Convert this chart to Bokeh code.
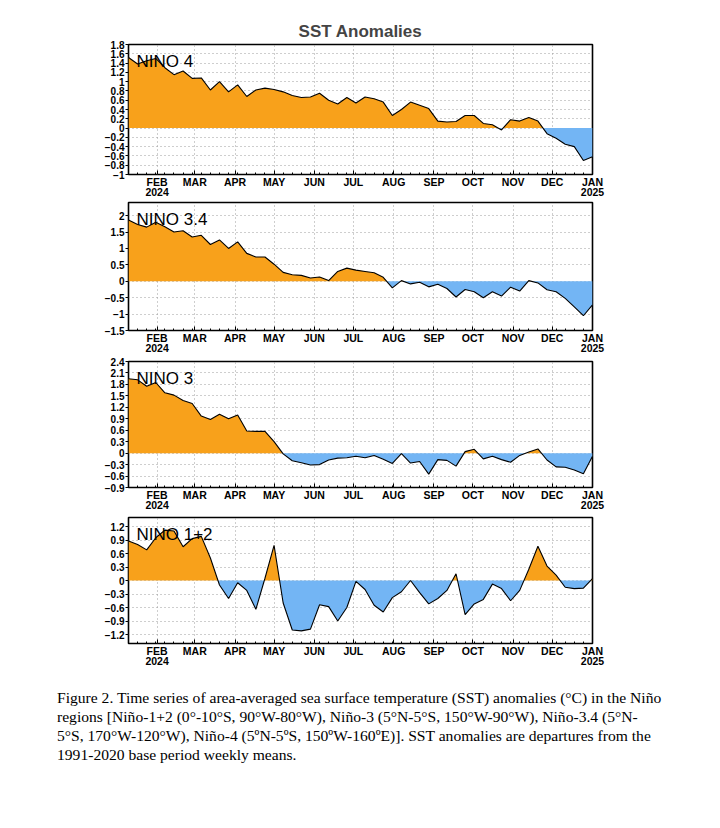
import numpy as np
import pandas as pd
from bokeh.plotting import figure
from bokeh.models import Range1d, FixedTicker, Label, Div
from bokeh.layouts import column
from bokeh.embed import file_html
from bokeh.resources import INLINE

# ---------------- data ----------------
first_week = "2024-01-10"
n_weeks = 52
month_tick_dates = ["2024-02-01", "2024-03-01", "2024-04-01", "2024-05-01", "2024-06-01",
                    "2024-07-01", "2024-08-01", "2024-09-01", "2024-10-01", "2024-11-01",
                    "2024-12-01", "2025-01-01"]
month_labels = ["FEB\n2024", "MAR", "APR", "MAY", "JUN", "JUL", "AUG", "SEP", "OCT", "NOV",
                "DEC", "JAN\n2025"]

nino4 = [1.52, 1.38, 1.45, 1.50, 1.30, 1.15, 1.23, 1.07, 1.08, 0.82, 1.00, 0.78, 0.93,
         0.68, 0.82, 0.86, 0.83, 0.78, 0.70, 0.66, 0.67, 0.75, 0.60, 0.52, 0.66, 0.54,
         0.67, 0.63, 0.56, 0.27, 0.40, 0.56, 0.49, 0.42, 0.15, 0.13, 0.14, 0.27, 0.27,
         0.10, 0.07, -0.04, 0.18, 0.15, 0.23, 0.15, -0.12, -0.22, -0.35, -0.40, -0.70, -0.62]
nino34 = [1.87, 1.73, 1.65, 1.80, 1.66, 1.50, 1.54, 1.35, 1.40, 1.12, 1.26, 1.00, 1.20,
          0.85, 0.74, 0.74, 0.52, 0.27, 0.20, 0.18, 0.10, 0.13, 0.02, 0.30, 0.40, 0.34,
          0.30, 0.26, 0.12, -0.20, 0.02, -0.08, -0.03, -0.17, -0.09, -0.22, -0.48, -0.25,
          -0.32, -0.50, -0.32, -0.45, -0.18, -0.30, 0.02, -0.05, -0.26, -0.32, -0.52, -0.78,
          -1.05, -0.72]
nino3 = [1.95, 1.92, 1.75, 1.85, 1.58, 1.52, 1.38, 1.30, 0.97, 0.88, 1.02, 0.90, 1.00,
         0.58, 0.57, 0.57, 0.30, -0.02, -0.20, -0.25, -0.31, -0.30, -0.18, -0.13, -0.12,
         -0.08, -0.12, -0.06, -0.16, -0.27, -0.01, -0.26, -0.22, -0.55, -0.17, -0.19, -0.34,
         0.04, 0.10, -0.15, -0.08, -0.17, -0.24, -0.06, 0.03, 0.11, -0.18, -0.36, -0.37,
         -0.44, -0.54, -0.08]
nino12 = [0.88, 0.80, 0.68, 0.95, 1.12, 1.10, 0.75, 0.93, 0.98, 0.50, -0.10, -0.40, -0.05,
          -0.22, -0.64, 0.05, 0.78, -0.50, -1.10, -1.12, -1.08, -0.54, -0.58, -0.90, -0.60,
          -0.02, -0.20, -0.55, -0.70, -0.38, -0.25, 0.00, -0.27, -0.52, -0.40, -0.22, 0.15,
          -0.76, -0.52, -0.42, -0.08, -0.18, -0.45, -0.22, 0.25, 0.76, 0.32, 0.12, -0.15,
          -0.18, -0.17, 0.04]

nino4_ticks = [-1.0, -0.8, -0.6, -0.4, -0.2, 0.0, 0.2, 0.4, 0.6, 0.8, 1.0, 1.2, 1.4, 1.6, 1.8]
nino4_tick_labels = ["\u22121", "\u22120.8", "\u22120.6", "\u22120.4", "\u22120.2", "0", "0.2",
                     "0.4", "0.6", "0.8", "1", "1.2", "1.4", "1.6", "1.8"]
nino34_ticks = [-1.5, -1.0, -0.5, 0.0, 0.5, 1.0, 1.5, 2.0]
nino34_tick_labels = ["\u22121.5", "\u22121", "\u22120.5", "0", "0.5", "1", "1.5", "2"]
nino3_ticks = [-0.9, -0.6, -0.3, 0.0, 0.3, 0.6, 0.9, 1.2, 1.5, 1.8, 2.1, 2.4]
nino3_tick_labels = ["\u22120.9", "\u22120.6", "\u22120.3", "0", "0.3", "0.6", "0.9", "1.2",
                     "1.5", "1.8", "2.1", "2.4"]
nino12_ticks = [-1.2, -0.9, -0.6, -0.3, 0.0, 0.3, 0.6, 0.9, 1.2]
nino12_tick_labels = ["\u22121.2", "\u22120.9", "\u22120.6", "\u22120.3", "0", "0.3", "0.6",
                      "0.9", "1.2"]

caption_lines = [
    "Figure 2. Time series of area-averaged sea surface temperature (SST) anomalies (\u00b0C) in the Ni\u00f1o",
    "regions [Ni\u00f1o-1+2 (0\u00b0-10\u00b0S, 90\u00b0W-80\u00b0W), Ni\u00f1o-3 (5\u00b0N-5\u00b0S, 150\u00b0W-90\u00b0W), Ni\u00f1o-3.4 (5\u00b0N-",
    "5\u00b0S, 170\u00b0W-120\u00b0W), Ni\u00f1o-4 (5\u00baN-5\u00baS, 150\u00baW-160\u00baE)]. SST anomalies are departures from the",
    "1991-2020 base period weekly means.",
]

# ---------------- helpers ----------------
ORANGE = "#F8A11B"
BLUE = "#73B5F4"
epoch = pd.Timestamp("1970-01-01")
dates = pd.date_range(first_week, periods=n_weeks, freq="7D")
x_ms = np.array([(d - epoch) / pd.Timedelta(milliseconds=1) for d in dates])
month_ms = [float((pd.Timestamp(d) - epoch) / pd.Timedelta(milliseconds=1)) for d in month_tick_dates]

AX_FONT = "Liberation Sans"


def with_crossings(x, v):
    xx, yy = [x[0]], [v[0]]
    for i in range(1, len(v)):
        a, b = v[i - 1], v[i]
        if a * b < 0:
            t = a / (a - b)
            xx.append(x[i - 1] + t * (x[i] - x[i - 1]))
            yy.append(0.0)
        xx.append(x[i])
        yy.append(v[i])
    return np.array(xx), np.array(yy)


def panel(values, ticks, tick_labels, ylo, yhi, name, fh, top, bottom, title=None):
    p = figure(x_axis_type="datetime", frame_width=464, frame_height=fh,
               min_border_left=128, min_border_right=26, min_border_top=top,
               min_border_bottom=bottom, output_backend="svg", toolbar_location=None,
               x_range=Range1d(x_ms[0], x_ms[-1]), y_range=Range1d(ylo, yhi))
    if title:
        p.title.text = title
        p.title.align = "center"
        p.title.text_font = "Liberation Sans"
        p.title.text_font_size = "17px"
        p.title.text_font_style = "bold"
        p.title.standoff = 7
    v = np.array(values, dtype=float)
    xx, yy = with_crossings(x_ms, v)
    p.varea(x=xx, y1=0, y2=np.maximum(yy, 0), fill_color=ORANGE)
    p.varea(x=xx, y1=np.minimum(yy, 0), y2=0, fill_color=BLUE)
    p.line(x_ms, v, line_color="black", line_width=1.1)

    p.xaxis.ticker = FixedTicker(ticks=month_ms, minor_ticks=list(x_ms))
    p.xaxis.major_label_overrides = dict(zip(month_ms, month_labels))
    p.yaxis.ticker = FixedTicker(ticks=ticks)
    p.yaxis.major_label_overrides = dict(zip(ticks, tick_labels))
    for ax in (p.xaxis[0], p.yaxis[0]):
        ax.axis_line_color = None
        ax.major_label_text_font = AX_FONT
        ax.major_label_text_font_style = "bold"
        ax.major_label_text_color = "black"
    p.xaxis.major_label_text_font_size = "10.5px"
    p.xaxis.major_label_text_line_height = 0.9
    p.xaxis.major_tick_in = 4
    p.xaxis.major_tick_out = 0
    p.xaxis.minor_tick_in = 2
    p.xaxis.minor_tick_out = 0
    p.xaxis.major_label_standoff = 1
    p.yaxis.major_label_text_font_size = "10px"
    p.yaxis.major_tick_in = 0
    p.yaxis.major_tick_out = 3
    p.yaxis.minor_tick_line_color = None
    p.yaxis.major_label_standoff = 1

    p.grid.grid_line_color = "#9c9c9c"
    p.grid.grid_line_dash = "1 3"
    p.grid.grid_line_width = 1
    p.outline_line_color = "black"
    p.outline_line_width = 1.6
    p.background_fill_color = "white"
    p.border_fill_color = "white"

    p.add_layout(Label(x=x_ms[0], y=yhi, x_offset=8, y_offset=-7, text=name,
                       text_baseline="top", text_align="left", text_font="Liberation Sans",
                       text_font_size="17px", text_color="black"))
    return p


p1 = panel(nino4, nino4_ticks, nino4_tick_labels, -1.0, 1.8, "NINO 4", 130, 44, 26,
           title="SST Anomalies")
p2 = panel(nino34, nino34_ticks, nino34_tick_labels, -1.5, 2.4, "NINO 3.4", 128, 1, 26)
p3 = panel(nino3, nino3_ticks, nino3_tick_labels, -0.9, 2.4, "NINO 3", 126, 4, 26)
p4 = panel(nino12, nino12_ticks, nino12_tick_labels, -1.4, 1.4, "NINO 1+2", 126, 3, 26)

caption = Div(text="<br>".join(caption_lines), width=680, margin=(18, 0, 0, 57),
              styles={"font-family": "'Liberation Serif', serif", "font-size": "15.6px",
                      "line-height": "19px", "color": "black", "white-space": "nowrap"})

layout = column(p1, p2, p3, p4, caption, spacing=0)
open("out.html", "w").write(file_html(layout, INLINE))
